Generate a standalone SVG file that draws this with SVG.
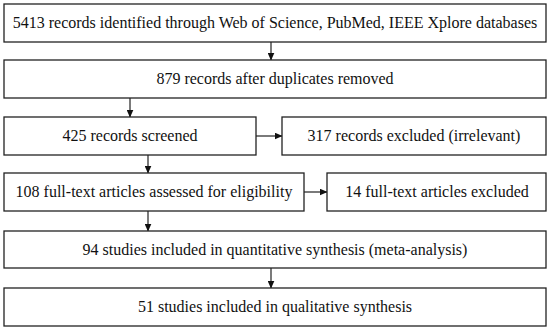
<svg xmlns="http://www.w3.org/2000/svg" width="550" height="330" viewBox="0 0 550 330">
<defs>
<style>
.box{fill:#fff;stroke:#222;stroke-width:1.3}
.t{font-family:"Liberation Serif","Times New Roman",serif;font-size:16px;fill:#111;text-anchor:middle}
.c{stroke:#222;stroke-width:1.2;fill:none}
</style>
<marker id="ah" markerWidth="8" markerHeight="7" refX="7.5" refY="3.5" orient="auto" markerUnits="userSpaceOnUse">
<path d="M0,0 L8,3.5 L0,7 Z" fill="#111"/>
</marker>
</defs>
<rect width="550" height="330" fill="#fff"/>
<g id="connectors">
<line class="c" x1="271" y1="42" x2="271" y2="60" marker-end="url(#ah)"/>
<line class="c" x1="130" y1="98" x2="130" y2="117" marker-end="url(#ah)"/>
<line class="c" x1="256" y1="136" x2="282" y2="136" marker-end="url(#ah)"/>
<line class="c" x1="148" y1="155" x2="148" y2="173" marker-end="url(#ah)"/>
<line class="c" x1="304" y1="192" x2="327" y2="192" marker-end="url(#ah)"/>
<line class="c" x1="148" y1="211" x2="148" y2="231" marker-end="url(#ah)"/>
<line class="c" x1="271" y1="268" x2="271" y2="288" marker-end="url(#ah)"/>
</g>
<g id="n1"><rect class="box" x="4" y="4" width="542" height="38"/><text class="t" x="275" y="28">5413 records identified through Web of Science, PubMed, IEEE Xplore databases</text></g>
<g id="n2"><rect class="box" x="4" y="60" width="542" height="38"/><text class="t" x="275" y="84">879 records after duplicates removed</text></g>
<g id="n3"><rect class="box" x="4" y="117" width="252" height="38"/><text class="t" x="130" y="141">425 records screened</text></g>
<g id="n4"><rect class="box" x="282" y="117" width="264" height="38"/><text class="t" x="414" y="141">317 records excluded (irrelevant)</text></g>
<g id="n5"><rect class="box" x="4" y="173" width="300" height="38"/><text class="t" x="154" y="197">108 full-text articles assessed for eligibility</text></g>
<g id="n6"><rect class="box" x="327" y="173" width="219" height="38"/><text class="t" x="437" y="197">14 full-text articles excluded</text></g>
<g id="n7"><rect class="box" x="4" y="231" width="542" height="37"/><text class="t" x="275" y="254.5">94 studies included in quantitative synthesis (meta-analysis)</text></g>
<g id="n8"><rect class="box" x="4" y="288" width="542" height="38"/><text class="t" x="275" y="312">51 studies included in qualitative synthesis</text></g>
</svg>
